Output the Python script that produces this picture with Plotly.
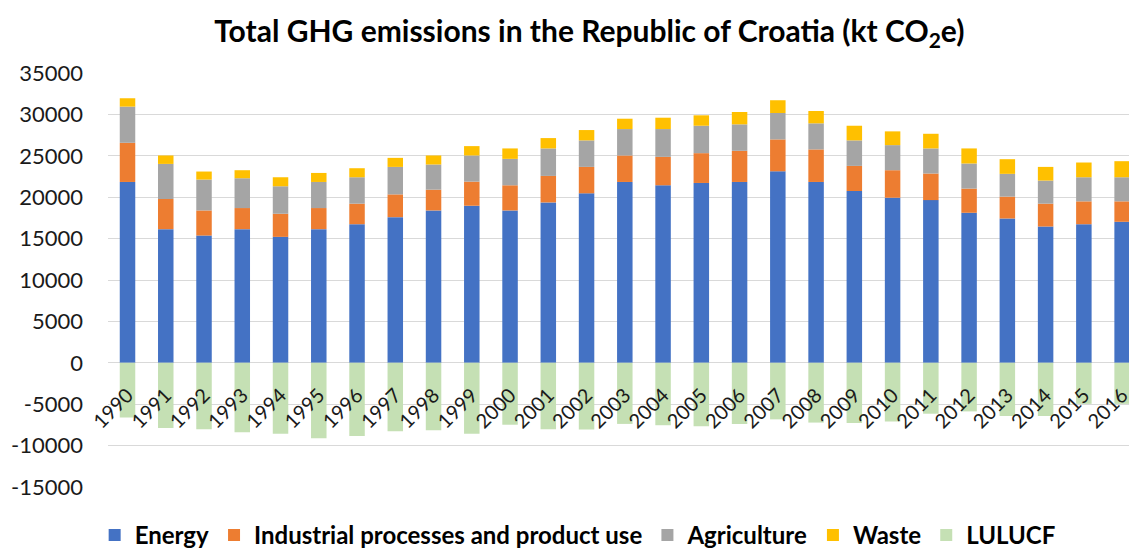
import plotly.graph_objects as go

# GHG emissions by sector, Republic of Croatia (kt CO2e)
years = [str(y) for y in range(1990, 2017)]

energy = [21840, 16140, 15370, 16140, 15210, 16140, 16740, 17590, 18400, 18970,
          18400, 19370, 20470, 21840, 21440, 21720, 21840, 23130, 21840, 20750,
          19940, 19650, 18120, 17430, 16460, 16740, 17030]
ippu = [4730, 3640, 3030, 2550, 2790, 2550, 2480, 2750, 2510, 2910,
        3040, 3200, 3190, 3200, 3430, 3600, 3760, 3850, 3930, 3030,
        3320, 3210, 2920, 2640, 2760, 2760, 2470]
agriculture = [4370, 4240, 3730, 3600, 3320, 3150, 3190, 3320, 3040, 3160,
               3190, 3320, 3200, 3190, 3360, 3310, 3200, 3190, 3150, 3080,
               3030, 3030, 3030, 2750, 2790, 2910, 2910]
waste = [1010, 1020, 970, 970, 1090, 1090, 1090, 1090, 1090, 1130,
         1260, 1250, 1250, 1250, 1370, 1260, 1490, 1540, 1490, 1770,
         1660, 1770, 1820, 1770, 1650, 1780, 1940]
lulucf = [-6600, -7880, -8040, -8400, -8560, -9120, -8840, -8280, -8160, -8560,
          -7480, -8040, -8060, -7380, -7540, -7660, -7380, -6830, -7220, -7260,
          -7100, -6150, -5870, -6430, -6430, -4960, -4960]

y_ticks = [-15000, -10000, -5000, 0, 5000, 10000, 15000, 20000, 25000, 30000, 35000]
y_tick_labels = [str(v) for v in y_ticks]

series = [
    ("Energy", energy, "#4472C4"),
    ("Industrial processes and product use", ippu, "#ED7D31"),
    ("Agriculture", agriculture, "#A5A5A5"),
    ("Waste", waste, "#FFC000"),
    ("LULUCF", lulucf, "#C5E0B4"),
]

fig = go.Figure()
for name, vals, color in series:
    fig.add_trace(go.Bar(x=years, y=vals, name=name, marker_color=color,
                         marker_line_width=0))

font_family = "Lato, 'Open Sans', sans-serif"

fig.update_layout(
    width=1129, height=549,
    barmode="relative",
    bargap=0.595,
    paper_bgcolor="white",
    plot_bgcolor="white",
    margin=dict(l=108, r=0, t=73, b=62, autoexpand=False),
    font=dict(family=font_family, color="#1a1a1a"),
    title=dict(
        text="Total GHG emissions in the Republic of Croatia (kt CO<sub>2</sub>e)",
        x=0.522, xref="container", xanchor="center",
        y=1 - 31 / 549, yref="container", yanchor="middle",
        font=dict(family=font_family, size=30, color="#000000", weight="bold"),
    ),
    legend=dict(
        orientation="h",
        x=0.46, xanchor="center",
        y=-0.117, yanchor="middle",
        font=dict(family=font_family, size=24, color="#000000", weight="bold"),
        itemwidth=30,
        tracegroupgap=0,
        traceorder="normal",
    ),
    xaxis=dict(
        type="category",
        range=[-0.51, 26.18],
        anchor="free",
        position=0.3,
        showgrid=False,
        showline=False,
        zeroline=False,
        tickangle=-45,
        ticks="",
        ticklabelstandoff=16,
        tickfont=dict(family=font_family, size=20, color="#1a1a1a"),
    ),
    yaxis=dict(
        range=[-15000, 35000],
        tickvals=y_ticks,
        ticktext=y_tick_labels,
        showgrid=True,
        gridcolor="#D9D9D9",
        gridwidth=1,
        zeroline=True,
        zerolinecolor="#D9D9D9",
        zerolinewidth=1,
        showline=False,
        ticks="",
        ticklabelstandoff=24,
        tickfont=dict(family=font_family, size=22, color="#1a1a1a"),
    ),
)

fig.write_html("out.html")
